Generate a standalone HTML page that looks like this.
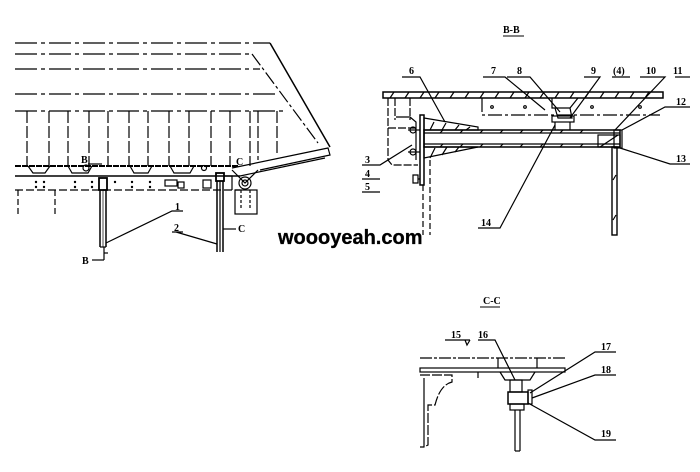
<!DOCTYPE html>
<html><head><meta charset="utf-8"><style>
html,body{margin:0;padding:0;background:#fff;width:700px;height:472px;overflow:hidden}
svg{display:block}
text{font-family:"Liberation Serif",serif;font-weight:bold;font-size:10px;fill:#000}
</style></head><body>
<svg width="700" height="472" viewBox="0 0 700 472" xmlns="http://www.w3.org/2000/svg">
<g stroke="#000" fill="none" stroke-width="1.2">
<!-- LEFT VIEW -->
<g stroke-dasharray="22,4,4,4">
<line x1="15" y1="43" x2="270" y2="43"/>
<line x1="15" y1="54" x2="252" y2="54"/>
<line x1="15" y1="69" x2="260" y2="69"/>
<line x1="15" y1="94" x2="275" y2="94"/>
<line x1="15" y1="111" x2="283" y2="111"/>
</g>
<line x1="270" y1="43" x2="330" y2="147" stroke-width="1.5"/>
<line x1="252" y1="54" x2="318" y2="143" stroke-dasharray="14,3,3,3"/>
<g stroke-dasharray="12,3">
<line x1="27" y1="111" x2="27" y2="166"/><line x1="49" y1="111" x2="49" y2="166"/>
<line x1="68" y1="111" x2="68" y2="166"/><line x1="89" y1="111" x2="89" y2="166"/>
<line x1="108" y1="111" x2="108" y2="166"/><line x1="129" y1="111" x2="129" y2="166"/>
<line x1="148" y1="111" x2="148" y2="166"/><line x1="169" y1="111" x2="169" y2="166"/>
<line x1="189" y1="111" x2="189" y2="166"/><line x1="211" y1="111" x2="211" y2="166"/>
<line x1="230" y1="111" x2="230" y2="166"/><line x1="250" y1="111" x2="250" y2="166"/>
<line x1="258" y1="111" x2="258" y2="160"/><line x1="277" y1="111" x2="277" y2="155"/>
</g>
<line x1="15" y1="166" x2="238" y2="166" stroke-width="2" stroke-dasharray="6,1"/>
<path d="M28 166 L33 173 L45 173 L50 166 M68 166 L72 173 L88 173 L92 166 M130 166 L134 173 L148 173 L152 166 M170 166 L174 173 L190 173 L194 166"/>
<path d="M232 168 L328 148 L330 155 L260 170 M240 176 L325 158" />
<line x1="15" y1="176" x2="240" y2="176" stroke-width="1.5"/>
<line x1="15" y1="190" x2="240" y2="190" stroke-dasharray="8,3"/>
<g fill="#000" stroke="none">
<circle cx="36" cy="182" r="1.2"/><circle cx="44" cy="182" r="1.2"/><circle cx="36" cy="187" r="1.2"/><circle cx="44" cy="187" r="1.2"/>
<circle cx="75" cy="182" r="1.2"/><circle cx="75" cy="187" r="1.2"/><circle cx="92" cy="182" r="1.2"/><circle cx="92" cy="187" r="1.2"/>
<circle cx="115" cy="182" r="1.2"/><circle cx="132" cy="182" r="1.2"/><circle cx="132" cy="187" r="1.2"/><circle cx="150" cy="182" r="1.2"/><circle cx="150" cy="187" r="1.2"/>
</g>
<rect x="165" y="180" width="12" height="6"/><rect x="178" y="182" width="6" height="6"/><rect x="203" y="180" width="8" height="8"/>
<circle cx="86" cy="168" r="3"/><circle cx="204" cy="168" r="2.5"/>
<line x1="18" y1="190" x2="18" y2="215" stroke-dasharray="6,3"/>
<line x1="55" y1="190" x2="55" y2="215" stroke-dasharray="6,3"/>
<!-- legs -->
<rect x="99" y="178" width="8" height="12" stroke-width="1.8"/>
<line x1="100" y1="190" x2="100" y2="247" stroke-width="1.5"/><line x1="106" y1="190" x2="106" y2="247" stroke-width="1.5"/><line x1="103" y1="190" x2="103" y2="247" stroke-width="0.7"/>
<line x1="100" y1="247" x2="106" y2="247"/>
<line x1="104" y1="247" x2="104" y2="260"/><line x1="104" y1="260" x2="92" y2="260"/><line x1="104" y1="253" x2="108" y2="253"/>
<rect x="216" y="173" width="8" height="8" stroke-width="1.8"/>
<line x1="217" y1="181" x2="217" y2="252" stroke-width="1.5"/><line x1="220" y1="181" x2="220" y2="252"/><line x1="223" y1="181" x2="223" y2="252" stroke-width="1.5"/>
<line x1="223" y1="229" x2="236" y2="229"/>
<!-- bracket -->
<circle cx="245" cy="183" r="6"/><circle cx="245" cy="183" r="3"/>
<path d="M232 170 L245 183 L258 170 M225 176 L232 176 L232 190"/>
<rect x="235" y="190" width="22" height="24"/>
<line x1="241" y1="190" x2="241" y2="210" stroke-dasharray="3,2"/><line x1="250" y1="190" x2="250" y2="210" stroke-dasharray="3,2"/>
<!-- leaders -->
<path d="M183 211 L172 211 L106 243"/>
<path d="M172 232 L183 232 M176 232 L217 244"/>
<path d="M88 164 L102 164"/>
</g>
<g>
<text x="175" y="210">1</text><text x="174" y="231">2</text><text x="238" y="232">C</text>
<text x="82" y="264">B</text><text x="81" y="163" font-size="8">B</text><text x="236" y="165" font-size="8">C</text>
</g>
<text x="278" y="244" style="font-family:'Liberation Sans',sans-serif;font-size:20px;font-weight:bold;fill:#000;stroke:#000;stroke-width:0.3">woooyeah.com</text>

<!-- B-B -->
<text x="503" y="33">B-B</text>
<line x1="503" y1="36" x2="524" y2="36" stroke="#000"/>
<g stroke="#000" fill="none" stroke-width="1.2">
<rect x="383" y="92" width="280" height="6" stroke-width="1.5"/>
<path d="M390 98 l4 -6 M405 98 l4 -6 M420 98 l4 -6 M435 98 l4 -6 M450 98 l4 -6 M465 98 l4 -6 M480 98 l4 -6 M495 98 l4 -6 M510 98 l4 -6 M525 98 l4 -6 M540 98 l4 -6 M555 98 l4 -6 M570 98 l4 -6 M585 98 l4 -6 M600 98 l4 -6 M615 98 l4 -6 M630 98 l4 -6 M645 98 l4 -6"/>
<path d="M482 98 L482 115 L660 115" stroke-dasharray="14,3,3,3"/>
<circle cx="492" cy="107" r="1.3"/><circle cx="525" cy="107" r="1.3"/><circle cx="592" cy="107" r="1.3"/><circle cx="640" cy="107" r="1.3"/>
<path d="M388 98 L388 160 L392 165 L418 165 M388 128 L416 128 M395 98 L395 120 M410 98 L410 120" stroke-dasharray="8,2"/>
<path d="M396 117 L410 117 L416 122 L416 160"/>
<rect x="420" y="115" width="4" height="70" stroke-width="1.5"/>
<circle cx="413" cy="130" r="3"/><circle cx="413" cy="152" r="3"/>
<line x1="408" y1="130" x2="420" y2="130"/><line x1="408" y1="152" x2="420" y2="152"/>
<path d="M424 118 L478 127 L478 130 L424 130 Z"/>
<path d="M424 147 L478 147 L424 158 Z"/>
<path d="M430 130 l4 -8 M442 130 l4 -7 M455 130 l4 -5 M466 130 l4 -3 M430 158 l5 -10 M442 155 l5 -8 M455 152 l4 -5"/>
<rect x="424" y="130" width="196" height="17" stroke-width="1.5"/>
<line x1="424" y1="133" x2="620" y2="133"/><line x1="424" y1="144" x2="620" y2="144"/>
<path d="M440 133 l3 -3 M460 133 l3 -3 M480 133 l3 -3 M500 133 l3 -3 M520 133 l3 -3 M540 133 l3 -3 M560 133 l3 -3 M580 133 l3 -3 M440 147 l3 -3 M460 147 l3 -3 M480 147 l3 -3 M500 147 l3 -3 M520 147 l3 -3 M540 147 l3 -3 M560 147 l3 -3 M580 147 l3 -3"/>
<rect x="598" y="135" width="22" height="12"/><line x1="600" y1="147" x2="618" y2="135"/>
<rect x="614" y="130" width="8" height="18"/>
<rect x="612" y="147" width="5" height="88" stroke-width="1.4"/>
<line x1="613" y1="180" x2="616" y2="175"/><line x1="613" y1="220" x2="616" y2="215"/>
<path d="M552 98 L552 108 L570 108 L578 98 M570 108 L572 118 L558 118 L555 108"/>
<rect x="552" y="116" width="22" height="6"/><line x1="555" y1="122" x2="555" y2="130"/><line x1="570" y1="122" x2="570" y2="130"/>
<line x1="423" y1="185" x2="423" y2="235" stroke-dasharray="6,3"/><line x1="430" y1="160" x2="430" y2="235" stroke-dasharray="6,3"/>
<path d="M413 175 L418 175 L418 183 L413 183 Z M418 179 L420 179"/>
<!-- leaders -->
<path d="M402 77 L420 77 L445 122"/>
<path d="M483 77 L505 77 L545 110"/>
<path d="M507 77 L530 77 L560 112" />
<path d="M584 77 L600 77 L570 118"/>
<path d="M612 77 L630 77"/>
<path d="M640 77 L665 77 L615 130"/>
<path d="M675 77 L690 77"/>
<path d="M690 107 L665 107 L622 130"/>
<path d="M690 164 L670 164 L620 148"/>
<path d="M362 165 L380 165 L412 145"/>
<line x1="362" y1="179" x2="380" y2="179"/><line x1="362" y1="192" x2="380" y2="192"/>
<path d="M478 228 L500 228 L555 125"/>
</g>
<g>
<text x="409" y="74">6</text><text x="491" y="74">7</text><text x="517" y="74">8</text><text x="591" y="74">9</text><text x="613" y="74">(4)</text>
<text x="646" y="74">10</text><text x="673" y="74">11</text><text x="676" y="105">12</text><text x="676" y="162">13</text>
<text x="365" y="163">3</text><text x="365" y="177">4</text><text x="365" y="190">5</text><text x="481" y="226">14</text>
</g>

<!-- C-C -->
<text x="483" y="304">C-C</text>
<line x1="480" y1="307" x2="500" y2="307" stroke="#000"/>
<g stroke="#000" fill="none" stroke-width="1.2">
<line x1="420" y1="358" x2="565" y2="358" stroke-dasharray="12,2,3,2"/>
<rect x="420" y="368" width="145" height="4"/>
<path d="M498 358 L498 368 M537 358 L537 368 M500 372 L505 380 L530 380 L535 372"/>
<path d="M420 375 L452 375 L452 382 Q440 385 435 405 L428 405 L428 445 L424 447 L420 447" stroke-dasharray="10,2"/>
<line x1="424" y1="378" x2="424" y2="447"/>
<line x1="478" y1="372" x2="478" y2="378"/>
<rect x="510" y="380" width="12" height="12"/>
<rect x="508" y="392" width="20" height="12" stroke-width="1.5"/>
<rect x="528" y="390" width="4" height="14"/>
<rect x="510" y="404" width="14" height="6"/>
<line x1="515" y1="410" x2="515" y2="451"/><line x1="520" y1="410" x2="520" y2="451"/><line x1="515" y1="451" x2="520" y2="451"/>
<path d="M445 340 L470 340 M470 340 L467 345 L465 340"/>
<path d="M478 340 L495 340 L515 380"/>
<path d="M616 352 L595 352 L530 393"/>
<path d="M616 375 L595 375 L532 398"/>
<path d="M616 440 L595 440 L528 403"/>
</g>
<g>
<text x="451" y="338">15</text><text x="478" y="338">16</text><text x="601" y="350">17</text><text x="601" y="373">18</text><text x="601" y="437">19</text>
</g>
</svg>
</body></html>
